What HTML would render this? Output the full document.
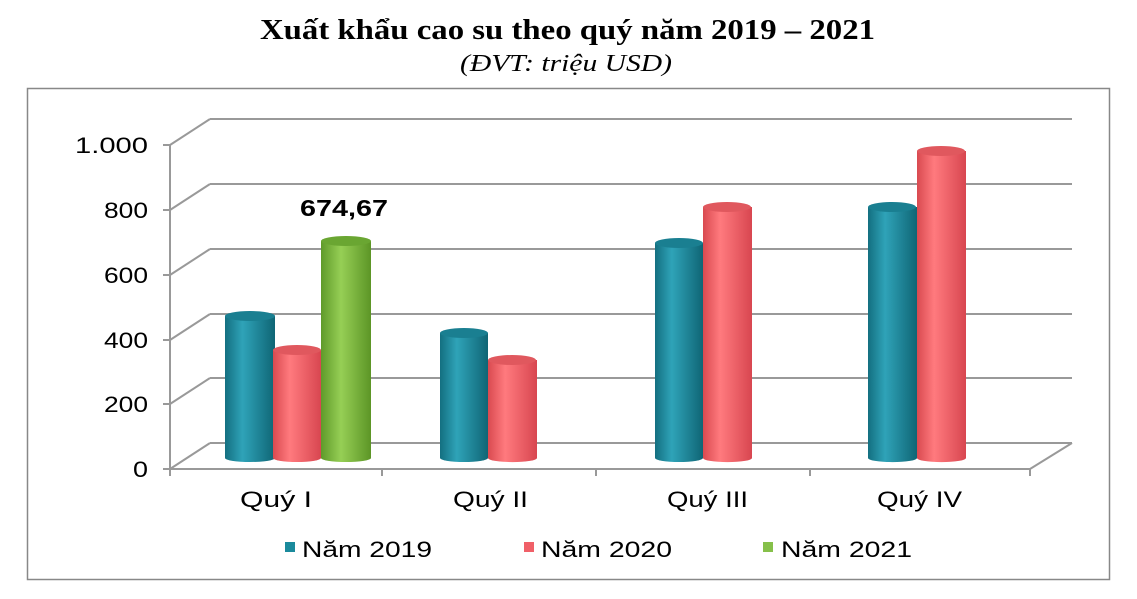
<!DOCTYPE html>
<html><head><meta charset="utf-8"><style>
body{margin:0;background:#fff;width:1137px;height:594px;overflow:hidden}
</style></head><body>
<svg width="1137" height="594" xmlns="http://www.w3.org/2000/svg">
<defs>
<linearGradient id="t" x1="0" x2="1"><stop offset="0" stop-color="#136f80"/><stop offset=".35" stop-color="#2fa3b8"/><stop offset="1" stop-color="#0f6575"/></linearGradient>
<linearGradient id="r" x1="0" x2="1"><stop offset="0" stop-color="#d94a50"/><stop offset=".35" stop-color="#ff7a7e"/><stop offset="1" stop-color="#d84650"/></linearGradient>
<linearGradient id="g" x1="0" x2="1"><stop offset="0" stop-color="#5f9a2a"/><stop offset=".4" stop-color="#96cf55"/><stop offset="1" stop-color="#5c9526"/></linearGradient>
</defs>
<text x="260" y="39" textLength="615" lengthAdjust="spacingAndGlyphs" font-family="Liberation Serif, serif" font-weight="bold" font-size="28">Xuất khẩu cao su theo quý năm 2019 – 2021</text>
<text x="460" y="71" textLength="212" lengthAdjust="spacingAndGlyphs" font-family="Liberation Serif, serif" font-style="italic" font-size="24">(ĐVT: triệu USD)</text>
<rect x="27.5" y="88.5" width="1082" height="491" fill="none" stroke="#888" stroke-width="1.5"/>
<g stroke="#999" stroke-width="2" fill="none">
<path d="M210 119 H1072 M210 184 H1072 M210 249 H1072 M210 314 H1072 M210 378 H1072 M210 443 H1072"/>
<path d="M170 145 L210 119 M170 210 L210 184 M170 275 L210 249 M170 340 L210 314 M170 404 L210 378 M170 469 L210 443"/>
<path d="M170 145 V469 M163 145 H170 M163 210 H170 M163 275 H170 M163 340 H170 M163 404 H170 M163 469 H170"/>
<path d="M170 469 H1030 L1072 443 M382 469 V476 M596 469 V476 M810 469 V476 M1030 469 V476 M170 469 V476"/>
</g>
<g font-family="Liberation Sans, sans-serif" font-size="22" fill="#000">
<text x="75" y="153" textLength="73" lengthAdjust="spacingAndGlyphs">1.000</text>
<text x="104" y="218" textLength="44" lengthAdjust="spacingAndGlyphs">800</text>
<text x="104" y="283" textLength="44" lengthAdjust="spacingAndGlyphs">600</text>
<text x="104" y="348" textLength="44" lengthAdjust="spacingAndGlyphs">400</text>
<text x="104" y="412" textLength="44" lengthAdjust="spacingAndGlyphs">200</text>
<text x="133" y="477" textLength="15" lengthAdjust="spacingAndGlyphs">0</text>
</g>
<g>
<path d="M225 316 V458 A25 4 0 0 0 275 458 V316 Z" fill="url(#t)"/><ellipse cx="250" cy="316" rx="25" ry="5" fill="#1a7f91"/>
<path d="M273 350 V458 A24 4 0 0 0 321 458 V350 Z" fill="url(#r)"/><ellipse cx="297" cy="350" rx="24" ry="5" fill="#e0585e"/>
<path d="M321 241 V458 A25 4 0 0 0 371 458 V241 Z" fill="url(#g)"/><ellipse cx="346" cy="241" rx="25" ry="5" fill="#6aa632"/>
<path d="M440 333 V458 A24 4 0 0 0 488 458 V333 Z" fill="url(#t)"/><ellipse cx="464" cy="333" rx="24" ry="5" fill="#1a7f91"/>
<path d="M488 360 V458 A24 4 0 0 0 537 458 V360 Z" fill="url(#r)"/><ellipse cx="512" cy="360" rx="24" ry="5" fill="#e0585e"/>
<path d="M655 243 V458 A24 4 0 0 0 703 458 V243 Z" fill="url(#t)"/><ellipse cx="679" cy="243" rx="24" ry="5" fill="#1a7f91"/>
<path d="M703 207 V458 A24 4 0 0 0 752 458 V207 Z" fill="url(#r)"/><ellipse cx="727" cy="207" rx="24" ry="5" fill="#e0585e"/>
<path d="M868 207 V458 A24 4 0 0 0 917 458 V207 Z" fill="url(#t)"/><ellipse cx="892" cy="207" rx="24" ry="5" fill="#1a7f91"/>
<path d="M917 151 V458 A24 4 0 0 0 966 458 V151 Z" fill="url(#r)"/><ellipse cx="941" cy="151" rx="24" ry="5" fill="#e0585e"/>
</g>
<text x="300" y="216" textLength="88" lengthAdjust="spacingAndGlyphs" font-family="Liberation Sans, sans-serif" font-weight="bold" font-size="23">674,67</text>
<g font-family="Liberation Sans, sans-serif" font-size="22">
<text x="240" y="507" textLength="72" lengthAdjust="spacingAndGlyphs">Quý I</text>
<text x="453" y="507" textLength="75" lengthAdjust="spacingAndGlyphs">Quý II</text>
<text x="667" y="507" textLength="81" lengthAdjust="spacingAndGlyphs">Quý III</text>
<text x="877" y="507" textLength="85" lengthAdjust="spacingAndGlyphs">Quý IV</text>
</g>
<g font-family="Liberation Sans, sans-serif" font-size="22">
<rect x="285" y="542" width="10" height="10" fill="#1a8a9c"/><text x="302" y="557" textLength="130" lengthAdjust="spacingAndGlyphs">Năm 2019</text>
<rect x="524" y="542" width="10" height="10" fill="#f06068"/><text x="541" y="557" textLength="131" lengthAdjust="spacingAndGlyphs">Năm 2020</text>
<rect x="763" y="542" width="10" height="10" fill="#86c04a"/><text x="781" y="557" textLength="131" lengthAdjust="spacingAndGlyphs">Năm 2021</text>
</g>
</svg>
</body></html>
